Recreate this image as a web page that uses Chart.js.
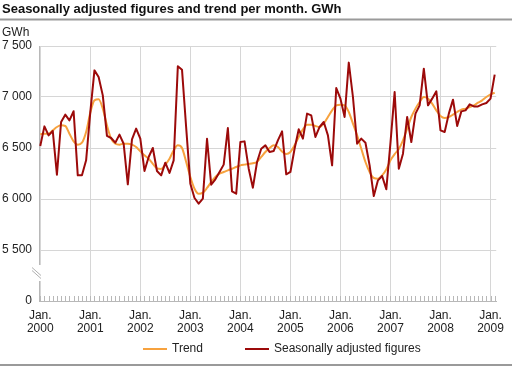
<!DOCTYPE html>
<html>
<head>
<meta charset="utf-8">
<script src="https://cdn.jsdelivr.net/npm/chart.js@4.4.1/dist/chart.umd.min.js"></script>
<style>
  html, body { margin: 0; padding: 0; background: #fff; }
  #wrap { position: relative; width: 512px; height: 369px; }
</style>
</head>
<body>
<div id="wrap"><canvas id="c" width="512" height="369"></canvas></div>
<script>
// ---- data ----
const titleText = 'Seasonally adjusted figures and trend per month. GWh';
const unitLabel = 'GWh';
const yearLabels = ['2000','2001','2002','2003','2004','2005','2006','2007','2008','2009'];
const yTicks = [5000, 5500, 6000, 6500, 7000, 7500];
const yTickLabels = ['0', '5 500', '6 000', '6 500', '7 000', '7 500'];
const seriesNames = ['Trend', 'Seasonally adjusted figures'];

const trend = [
6634,6640,6640,6673,6706,6722,6716,6640,6565,6533,6552,6657,
6846,6967,6977,6886,6722,6592,6542,6533,6542,6542,6533,6510,
6467,6428,6395,6345,6300,6295,6337,6395,6477,6526,6500,6363,
6216,6101,6052,6062,6108,6167,6216,6248,6265,6281,6297,6314,
6330,6337,6343,6350,6363,6412,6461,6500,6526,6510,6465,6440,
6461,6526,6608,6683,6729,6729,6716,6706,6739,6804,6869,6918,
6925,6918,6853,6739,6624,6493,6363,6265,6206,6199,6232,6290,
6380,6440,6490,6575,6690,6804,6886,6951,7000,6984,6935,6869,
6814,6794,6804,6827,6853,6876,6886,6902,6918,6944,6967,7000,
7026,7042];

const seasonal = [
6520,6712,6624,6667,6238,6755,6827,6771,6860,6232,6232,6379,
6850,7261,7196,7016,6618,6598,6552,6631,6542,6144,6585,6690,
6592,6275,6412,6500,6275,6232,6356,6255,6379,7301,7268,6700,
6150,6010,5954,6003,6591,6140,6193,6265,6337,6696,6075,6052,
6559,6565,6297,6111,6363,6493,6526,6461,6471,6575,6663,6242,
6265,6493,6683,6592,6837,6820,6608,6706,6755,6624,6330,7088,
6984,6804,7337,7000,6542,6592,6552,6330,6029,6183,6225,6095,
6550,7049,6297,6444,6804,6559,6837,6918,7278,6918,6984,7056,
6673,6657,6837,6974,6716,6859,6869,6928,6908,6908,6928,6941,
6984,7219];

const colors = { trend: '#f7a23e', seasonal: '#9c0a0a', grid: '#d6d6d6', axis: '#b8b8b8', text: '#222222', rule: '#9a9a9a' };
const FONT = '"Liberation Sans", Arial, sans-serif';

const toPoints = arr => arr.map((v, i) => ({ x: i, y: v }));
const yearIdx = yearLabels.map((_, i) => i * 12);

const decor = {
  id: 'decor',
  beforeDatasetsDraw(chart) {
    const ctx = chart.ctx, xs = chart.scales.x, ys = chart.scales.y;
    const yb = ys.getPixelForValue(5000);
    ctx.save();
    ctx.strokeStyle = colors.axis;
    ctx.lineWidth = 1;
    ctx.beginPath();
    for (let i = 0; i < seasonal.length; i++) {
      const px = Math.round(xs.getPixelForValue(i)) + 0.5;
      ctx.moveTo(px, yb);
      ctx.lineTo(px, yb - 5);
    }
    ctx.stroke();
    ctx.restore();
  },
  afterDraw(chart) {
    const ctx = chart.ctx, ca = chart.chartArea;
    ctx.save();
    // title
    ctx.fillStyle = '#111';
    ctx.font = 'bold 13px ' + FONT;
    ctx.textBaseline = 'alphabetic';
    ctx.textAlign = 'left';
    ctx.fillText(titleText, 2, 13);
    ctx.fillStyle = colors.rule;
    ctx.fillRect(0, 18.5, 512, 2);
    ctx.fillRect(0, 364, 512, 2);
    // unit
    ctx.fillStyle = colors.text;
    ctx.font = '12px ' + FONT;
    ctx.textBaseline = 'middle';
    ctx.fillText(unitLabel, 2, 33);
    // axis break
    ctx.fillStyle = '#fff';
    ctx.fillRect(ca.left - 3, 265, 7, 16);
    ctx.strokeStyle = '#b0b0b0';
    ctx.lineWidth = 1;
    ctx.beginPath();
    ctx.moveTo(32, 267.5); ctx.lineTo(41, 275.5);
    ctx.moveTo(32, 270.5); ctx.lineTo(41, 278.5);
    ctx.stroke();
    // legend
    const items = [
      { x: 143, label: seriesNames[0], color: colors.trend },
      { x: 245, label: seriesNames[1], color: colors.seasonal }
    ];
    ctx.font = '12px ' + FONT;
    ctx.textBaseline = 'middle';
    items.forEach(it => {
      ctx.fillStyle = it.color;
      ctx.fillRect(it.x, 348, 24, 2);
      ctx.fillStyle = colors.text;
      ctx.fillText(it.label, it.x + 29, 349);
    });
    ctx.restore();
  }
};

Chart.defaults.font.family = FONT;
Chart.defaults.font.size = 12;
Chart.defaults.color = colors.text;

new Chart(document.getElementById('c'), {
  type: 'line',
  data: {
    datasets: [
      { label: seriesNames[0], data: toPoints(trend), borderColor: colors.trend, borderWidth: 2,
        pointRadius: 0, tension: 0.4, cubicInterpolationMode: 'monotone', fill: false, order: 2 },
      { label: seriesNames[1], data: toPoints(seasonal), borderColor: colors.seasonal, borderWidth: 2,
        pointRadius: 0, tension: 0, fill: false, order: 1, borderJoinStyle: 'round' }
    ]
  },
  options: {
    responsive: false,
    animation: false,
    devicePixelRatio: 1,
    layout: { padding: { top: 46, left: 0, right: 10, bottom: 0 } },
    plugins: { legend: { display: false }, title: { display: false }, tooltip: { enabled: false } },
    scales: {
      x: {
        type: 'linear', min: -0.3, max: 109.37,
        afterBuildTicks: s => { s.ticks = yearIdx.map(v => ({ value: v })); },
        afterFit: s => { s.height = 68; },
        ticks: {
          autoSkip: false, maxRotation: 0, padding: 8,
          font: { size: 12, lineHeight: 1.1 },
          callback: v => ['Jan.', yearLabels[Math.round(v / 12)]]
        },
        grid: { color: colors.grid, drawTicks: false, lineWidth: 1 },
        border: { color: colors.axis, width: 1 }
      },
      y: {
        min: 5000, max: 7500,
        afterBuildTicks: s => { s.ticks = yTicks.map(v => ({ value: v })); },
        afterFit: s => { s.width = 39; },
        ticks: {
          padding: 7, font: { size: 12 },
          callback: v => yTickLabels[yTicks.indexOf(v)]
        },
        grid: { color: colors.grid, drawTicks: false, lineWidth: 1 },
        border: { color: colors.axis, width: 1 }
      }
    }
  },
  plugins: [decor]
});
</script>
</body>
</html>
